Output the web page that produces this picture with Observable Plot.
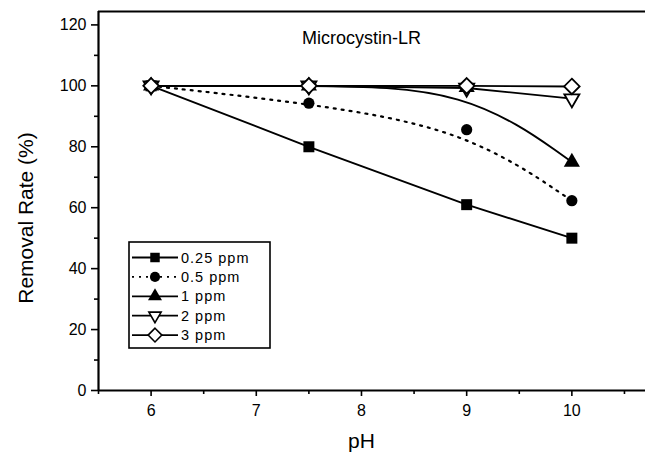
<!DOCTYPE html>
<html>
<head>
<meta charset="utf-8">
<script src="https://cdn.jsdelivr.net/npm/d3@7"></script>
<script src="https://cdn.jsdelivr.net/npm/@observablehq/plot@0.6"></script>
<style>
  html, body { margin: 0; padding: 0; background: #fff; }
  #wrap { position: relative; width: 645px; height: 459px; overflow: hidden; font-family: "Liberation Sans", Arial, sans-serif; }
  #legend { position: absolute; left: 0; top: 0; }
</style>
</head>
<body>
<div id="wrap"></div>
<script>
// ---- data ----
const pH = [6, 7.5, 9, 10];
const seriesNames = ["0.25 ppm", "0.5 ppm", "1 ppm", "2 ppm", "3 ppm"];
const r025 = [100, 80, 61, 50];
const r05  = [100, 94.3, 85.6, 62.3];
const r1   = [100, 100, 99.5, 75];
const r2   = [100, 100, 99.3, 95.8];
const r3   = [100, 100, 100, 99.8];
const yTicks = [0, 20, 40, 60, 80, 100, 120];
const yMinor = [10, 30, 50, 70, 90, 110];
const xTicks = [6, 7, 8, 9, 10];
const xMinor = [5.5, 6.5, 7.5, 8.5, 9.5, 10.5];
const title = "Microcystin-LR";
const xLabel = "pH";
const yLabel = "Removal Rate (%)";

const rows = (vals) => pH.map((x, i) => ({x, y: vals[i]}));
const d025 = rows(r025), d05 = rows(r05), d1 = rows(r1), d2 = rows(r2), d3s = rows(r3);

// triangle pointing down
const sqrt3 = Math.sqrt(3);
const triDown = {
  draw(context, size) {
    const y = Math.sqrt(size / (sqrt3 * 3));
    context.moveTo(0, y * 2);
    context.lineTo(-sqrt3 * y, -y);
    context.lineTo(sqrt3 * y, -y);
    context.closePath();
  }
};

const font = "Liberation Sans, Arial, sans-serif";
const yMax = 124.4;
const lw = 1.9;

const chart = Plot.plot({
  width: 645,
  height: 459,
  marginLeft: 98,
  marginRight: 0,
  marginTop: 11,
  marginBottom: 69,
  style: {fontFamily: font, background: "#fff", color: "#000"},
  x: {domain: [5.5, 10.7]},
  y: {domain: [0, yMax]},
  marks: [
    Plot.axisY(yTicks, {tickSize: 7, tickPadding: 5, fontSize: 16, label: null, strokeWidth: 1.6}),
    Plot.axisY(yMinor, {tickSize: 4, tickFormat: () => "", label: null, strokeWidth: 1.6}),
    Plot.axisX(xTicks, {tickSize: 6, tickPadding: 8, fontSize: 16, label: null, strokeWidth: 1.6}),
    Plot.axisX(xMinor, {tickSize: 4, tickFormat: () => "", label: null, strokeWidth: 1.6}),
    Plot.ruleX([5.5], {strokeWidth: 2.2}),
    Plot.ruleY([0], {strokeWidth: 2.2}),
    Plot.ruleY([yMax], {strokeWidth: 2.2}),
    Plot.text([yLabel], {frameAnchor: "left", textAnchor: "middle", lineAnchor: "middle", dx: -72, dy: 17, rotate: -90, fontSize: 21, text: d => d, fill: "#000", letterSpacing: 2}),
    Plot.text([xLabel], {x: () => 8, frameAnchor: "bottom", dy: 57, fontSize: 21, text: d => d, fill: "#000"}),
    Plot.text([title], {x: () => 8, y: () => 115.6, fontSize: 18, text: d => d, fill: "#000", letterSpacing: 0.8}),

    Plot.line(d025, {x: "x", y: "y", stroke: "#000", strokeWidth: lw}),
    Plot.line(d05, {x: "x", y: "y", stroke: "#000", strokeWidth: 2.2, curve: "basis", strokeDasharray: "2,6"}),
    Plot.line(d1, {x: "x", y: "y", stroke: "#000", strokeWidth: lw, curve: "basis"}),
    Plot.line(d2, {x: "x", y: "y", stroke: "#000", strokeWidth: lw}),
    Plot.line(d3s, {x: "x", y: "y", stroke: "#000", strokeWidth: lw}),

    Plot.dot(d025, {x: "x", y: "y", symbol: "square", r: 6.2, fill: "#000"}),
    Plot.dot(d05, {x: "x", y: "y", symbol: "circle", r: 5.6, fill: "#000"}),
    Plot.dot(d1, {x: "x", y: "y", symbol: "triangle", r: 6, fill: "#000"}),
    Plot.dot(d2, {x: "x", y: "y", symbol: triDown, r: 5.6, fill: "#fff", stroke: "#000", strokeWidth: 1.8}),
    Plot.dot(d3s, {x: "x", y: "y", symbol: "diamond2", r: 7, fill: "#fff", stroke: "#000", strokeWidth: 1.8})
  ]
});

const wrap = document.getElementById("wrap");
wrap.appendChild(chart);

// ---- legend overlay ----
const legendSymbols = [
  {sym: d3.symbolSquare, size: 90, fill: "#000", dash: null},
  {sym: d3.symbolCircle, size: 80, fill: "#000", dash: "2,5"},
  {sym: d3.symbolTriangle, size: 85, fill: "#000", dash: null},
  {sym: triDown, size: 65, fill: "#fff", dash: null},
  {sym: d3.symbolDiamond2, size: 120, fill: "#fff", dash: null}
];
const box = {x: 129, y: 242, w: 141, h: 106};
const rowY0 = 257.5, rowStep = 19.4;
const leg = d3.create("svg").attr("id", "legend").attr("width", 645).attr("height", 459);
leg.append("rect").attr("x", box.x).attr("y", box.y).attr("width", box.w).attr("height", box.h)
  .attr("fill", "#fff").attr("stroke", "#000").attr("stroke-width", 1.6);
seriesNames.forEach((name, i) => {
  const y = rowY0 + i * rowStep;
  const s = legendSymbols[i];
  leg.append("line").attr("x1", 132).attr("x2", 178).attr("y1", y).attr("y2", y)
    .attr("stroke", "#000").attr("stroke-width", 1.8).attr("stroke-dasharray", s.dash);
  leg.append("path").attr("d", d3.symbol(s.sym, s.size)()).attr("transform", `translate(155,${y})`)
    .attr("fill", s.fill).attr("stroke", "#000").attr("stroke-width", s.fill === "#fff" ? 1.6 : 0);
  leg.append("text").attr("x", 181).attr("y", y).attr("dy", "0.35em")
    .attr("font-family", font).attr("font-size", 14.5).attr("letter-spacing", 1)
    .text(name);
});
wrap.appendChild(leg.node());
</script>
</body>
</html>
